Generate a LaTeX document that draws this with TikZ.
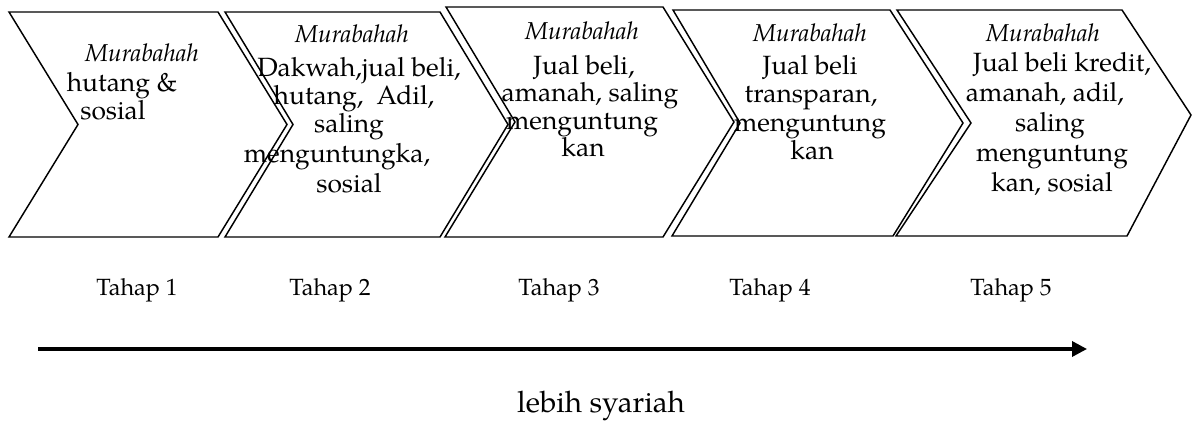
\documentclass[tikz,border=0pt]{standalone}
\usepackage{fontspec}
\setmainfont{TeX Gyre Pagella}
\usetikzlibrary{arrows.meta}
\begin{document}
\begin{tikzpicture}[x=0.75pt,y=-0.75pt,
  chev/.style={draw=black,line width=1.1pt,line join=miter},
  body/.style={font=\fontsize{19.8}{24}\selectfont,anchor=base,inner sep=0pt},
  mur/.style={font=\fontsize{18.3}{22}\selectfont\itshape,anchor=base,inner sep=0pt},
  tahap/.style={font=\fontsize{17.6}{21}\selectfont,anchor=base,inner sep=0pt},
  big/.style={font=\fontsize{22.2}{26}\selectfont,anchor=base,inner sep=0pt}]
\useasboundingbox (0,0) rectangle (1192,423);
% chevrons
\draw[chev] (9,12) -- (218,12) -- (287,124.5) -- (218,237) -- (9,237) -- (78,124.5) -- cycle;
\draw[chev] (225,12) -- (440,12) -- (508,124.5) -- (440,237) -- (225,237) -- (293,124.5) -- cycle;
\draw[chev] (446,7) -- (663,7) -- (734,122) -- (663,237) -- (445,237) -- (515,122) -- cycle;
\draw[chev] (673,10) -- (890,10) -- (963,123) -- (893,236) -- (672,236) -- (740,123) -- cycle;
\draw[chev] (897,10) -- (1122,10) -- (1191,115) -- (1127,236) -- (896,236) -- (971,123) -- cycle;
% chevron 1
\node[mur] (m1) at (142,62) {Murabahah};
\node[body] (c1a) at (122,92) {hutang \&};
\node[body] (c1b) at (113,120) {sosial};
% chevron 2
\node[mur] (m2) at (352,43) {Murabahah};
\node[body] (c2a) at (359,77) {Dakwah,jual beli,};
\node[body] (c2b) at (354,105) {hutang,\ \ Adil,};
\node[body] (c2c) at (349,133) {saling};
\node[body] (c2d) at (337,163) {menguntungka,};
\node[body] (c2e) at (349,193) {sosial};
% chevron 3
\node[mur] (m3) at (582,40) {Murabahah};
\node[body] (c3a) at (584,75) {Jual beli,};
\node[body] (c3b) at (590,102) {amanah, saling};
\node[body] (c3c) at (582,130) {menguntung};
\node[body] (c3d) at (583,157) {kan};
% chevron 4
\node[mur] (m4) at (810,42) {Murabahah};
\node[body] (c4a) at (810,75) {Jual beli};
\node[body] (c4b) at (811,103) {transparan,};
\node[body] (c4c) at (810,132) {menguntung};
\node[body] (c4d) at (812,160) {kan};
% chevron 5
\node[mur] (m5) at (1043,42) {Murabahah};
\node[body] (c5a) at (1062,72) {Jual beli kredit,};
\node[body] (c5b) at (1045,102) {amanah, adil,};
\node[body] (c5c) at (1050,132) {saling};
\node[body] (c5d) at (1052,162) {menguntung};
\node[body] (c5e) at (1052,192) {kan, sosial};
% stage labels
\node[tahap] (t1) at (137,296) {Tahap 1};
\node[tahap] (t2) at (330,296) {Tahap 2};
\node[tahap] (t3) at (559,296) {Tahap 3};
\node[tahap] (t4) at (770,296) {Tahap 4};
\node[tahap] (t5) at (1011,296) {Tahap 5};
% arrow
\coordinate (as) at (38,349);
\coordinate (ae) at (1087,349);
\draw[line width=2.6pt,-{Triangle[length=11.25pt,width=11.25pt]}] (as) -- (ae);
\node[big] (ls) at (601,413) {lebih syariah};
\end{tikzpicture}
\end{document}
